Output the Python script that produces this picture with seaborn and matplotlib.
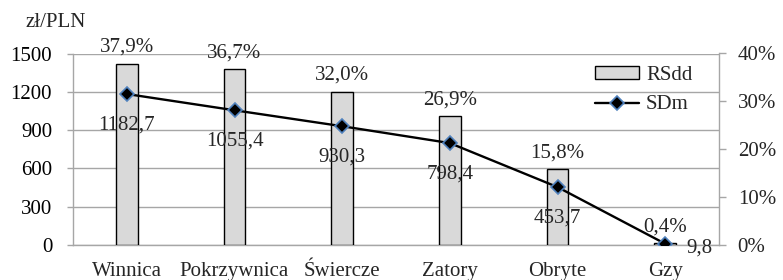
import matplotlib
matplotlib.use("Agg")
import matplotlib.pyplot as plt
import seaborn as sns
import numpy as np
from matplotlib.patches import Patch
from matplotlib.lines import Line2D

categories = ["Winnica", "Pokrzywnica", "Świercze", "Zatory", "Obryte", "Gzy"]
rsdd_pct = [37.9, 36.7, 32.0, 26.9, 15.8, 0.4]
sdm_values = [1182.7, 1055.4, 930.3, 798.4, 453.7, 9.8]
left_ticks = [0, 300, 600, 900, 1200, 1500]
right_ticks = [0, 10, 20, 30, 40]

sns.set_theme(style="white")
plt.rcParams['font.family'] = ['Liberation Serif', 'DejaVu Serif']
FS = 15
GRID = "#a6a6a6"
BAR = "#d9d9d9"
MEDGE = "#4f81bd"

fig = plt.figure(figsize=(7.83, 2.8), dpi=100)
ax = fig.add_axes([73/783, 35/280, (719-73)/783, (245-53.5)/280])
ax2 = ax.twinx()
ax3 = ax.twinx()

# left axis: grid
ax.set_ylim(0, 1500)
ax.set_yticks(left_ticks)
ax.set_yticklabels([str(t) for t in left_ticks], fontsize=FS, color="black")
ax.yaxis.grid(True, color=GRID, linewidth=1)
ax.set_axisbelow(True)
ax.tick_params(axis='y', which='both', length=4.5, width=1, color=GRID, pad=10.5, left=True)
ax.tick_params(axis='x', length=0, pad=12, labelsize=FS)
for s in ["top", "right"]:
    ax.spines[s].set_visible(False)
for s in ["left", "bottom"]:
    ax.spines[s].set_color(GRID)
    ax.spines[s].set_linewidth(1)

# bars on right axis
sns.barplot(x=categories, y=rsdd_pct, ax=ax2, color=BAR, edgecolor="black",
            linewidth=1, width=0.2, saturation=1)
ax2.set_ylim(0, 40)
ax2.set_yticks(right_ticks)
ax2.set_yticklabels([f"{t}%" for t in right_ticks], fontsize=FS)
ax2.tick_params(axis='y', length=5, width=1, color=GRID, pad=8.5, right=True)
for s in ["top", "left", "bottom"]:
    ax2.spines[s].set_visible(False)
ax2.spines["right"].set_color(GRID)
ax2.spines["right"].set_linewidth(1)
ax2.set_xlim(-0.5, len(categories) - 0.5)
ax2.set_ylabel("")
for i, v in enumerate(rsdd_pct):
    ax2.annotate(f"{v:.1f}%".replace(".", ","), (i, v), xytext=(0, 5),
                 textcoords="offset points", ha="center", va="bottom", fontsize=FS)

# line on third axis with left scale
ax3.set_ylim(0, 1500)
ax3.set_xlim(-0.5, len(categories) - 0.5)
ax3.axis("off")
xs = np.arange(len(categories))
sns.lineplot(x=xs, y=sdm_values, ax=ax3, color="black", linewidth=1.7,
             marker="D", markersize=7, markerfacecolor="black",
             markeredgecolor=MEDGE, markeredgewidth=1.2)
for i, v in enumerate(sdm_values):
    lab = f"{v:.1f}".replace(".", ",")
    if i == len(sdm_values) - 1:
        ax3.annotate(lab, (i, v), xytext=(15, -3), textcoords="offset points",
                     ha="left", va="center", fontsize=FS)
    else:
        ax3.annotate(lab, (i, v), xytext=(0, -15.5), textcoords="offset points",
                     ha="center", va="top", fontsize=FS)

ax.set_xlim(-0.5, len(categories) - 0.5)
ax.set_xticks(xs)
ax.set_xticklabels(categories, fontsize=FS)

handles = [Patch(facecolor=BAR, edgecolor="black", linewidth=1),
           Line2D([0], [0], color="black", linewidth=1.7, marker="D", markersize=7,
                  markerfacecolor="black", markeredgecolor=MEDGE, markeredgewidth=1.2)]
leg = ax3.legend(handles, ["RSdd", "SDm"], loc="upper left",
                 bbox_to_anchor=(595/783, 1 - 66/280), bbox_transform=fig.transFigure,
                 frameon=False, fontsize=FS, handlelength=2.1, handleheight=0.55,
                 handletextpad=0.35, labelspacing=0.5, borderaxespad=0, borderpad=0)

fig.text(25/783, 1 - 27/280, "zł/PLN", fontsize=FS, ha="left", va="baseline")

fig.savefig("out.png", dpi=100)
